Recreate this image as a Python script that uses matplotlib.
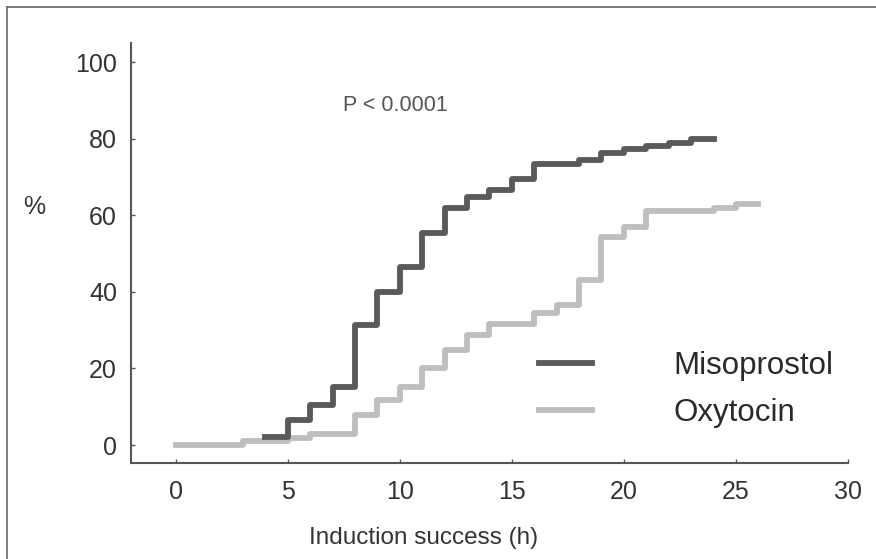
import matplotlib
matplotlib.use("Agg")
import matplotlib.pyplot as plt
from matplotlib.lines import Line2D

#----- data -----
miso_hours = [4, 5, 6, 7, 8, 9, 10, 11, 12, 13, 14, 15, 16, 18, 19, 20, 21, 22, 23, 24]
miso_pct = [2, 6.5, 10.4, 15.2, 31.3, 40, 46.5, 55.3, 62, 64.8, 66.7, 69.6, 73.5, 74.4, 76.2, 77.2, 78.2, 79, 80, 80]
oxy_hours = [0, 3, 5, 6, 8, 9, 10, 11, 12, 13, 14, 16, 17, 18, 19, 20, 21, 24, 25, 26]
oxy_pct = [0, 1, 1.9, 3, 7.8, 11.7, 15.2, 20, 24.8, 28.7, 31.6, 34.5, 36.5, 43, 54.4, 57, 61.2, 62, 63, 63]
x_ticks = [0, 5, 10, 15, 20, 25, 30]
y_ticks = [0, 20, 40, 60, 80, 100]

plt.rcParams['font.family'] = ['Liberation Sans', 'DejaVu Sans']

fig = plt.figure(figsize=(8.76, 5.59), dpi=100)
ax = fig.add_axes([0.1495, 0.1717, 0.8185, 0.7513])

dark = '#5a5a5a'
light = '#bebebe'
ax.step(oxy_hours, oxy_pct, where='post', color=light, linewidth=4.2, label='Oxytocin')
ax.step(miso_hours, miso_pct, where='post', color=dark, linewidth=4.2, label='Misoprostol')

ax.set_xlim(-2, 30)
ax.set_ylim(-4.7, 105)
ax.set_xticks(x_ticks)
ax.set_yticks(y_ticks)

for s in ['top', 'right']:
    ax.spines[s].set_visible(False)
for s in ['left', 'bottom']:
    ax.spines[s].set_color('#555555')
    ax.spines[s].set_linewidth(1.5)
ax.tick_params(direction='in', length=3, width=1, colors='#555555', labelcolor='#333333', labelsize=18)
ax.tick_params(axis='x', pad=12)
ax.tick_params(axis='y', pad=10)

ax.text(7.46, 88.7, 'P < 0.0001', fontsize=15.5, color='#555555', ha='left', va='center')

# legend: Misoprostol on top
handles = [Line2D([], [], color=dark, linewidth=4.2), Line2D([], [], color=light, linewidth=4.2)]
ax.legend(handles, ['Misoprostol', 'Oxytocin'], frameon=False, fontsize=22.5,
          loc='upper left', bbox_to_anchor=(0.53, 0.334), handlelength=1.7,
          handletextpad=2.6, labelspacing=0.55, labelcolor='#2a2a2a')

fig.text(34.5 / 876, 1 - 207 / 559, '%', fontsize=18, color='#333333', ha='center', va='center')
fig.text(423.5 / 876, 1 - 538 / 559, 'Induction success (h)', fontsize=17.5, color='#333333',
         ha='center', va='center')

# outer frame (top and left only are visible in the crop)
fig.add_artist(Line2D([7 / 876, 7 / 876], [0, 1 - 7 / 559], color='#666666', linewidth=1.2))
fig.add_artist(Line2D([7 / 876, 1], [1 - 7 / 559, 1 - 7 / 559], color='#666666', linewidth=1.2))

fig.savefig('out.png', dpi=100)
